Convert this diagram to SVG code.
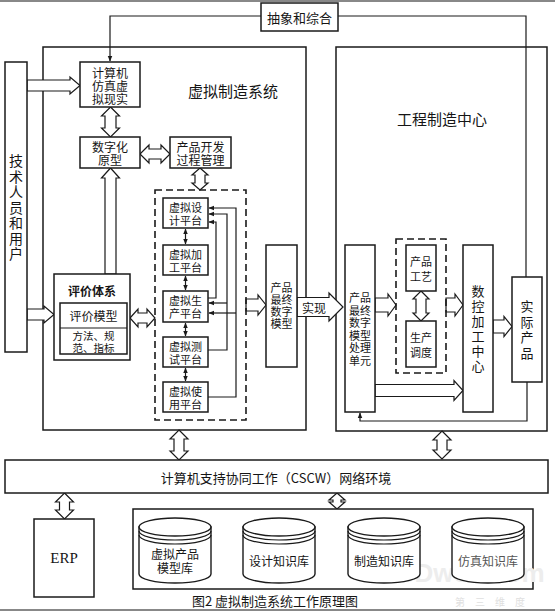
<svg xmlns="http://www.w3.org/2000/svg" xmlns:xlink="http://www.w3.org/1999/xlink" width="555" height="612" viewBox="0 0 555 612">
<style>
.box{fill:#fff;stroke:#1a1a1a;stroke-width:1.5}
.frame{fill:none;stroke:#1a1a1a;stroke-width:1.5}
.dash{fill:none;stroke:#1a1a1a;stroke-width:1.6;stroke-dasharray:7 4}
.ha{fill:#fff;stroke:#1a1a1a;stroke-width:1.2;stroke-linejoin:miter}
.ln{fill:none;stroke:#1a1a1a;stroke-width:1.2}
text{font-family:"Noto Sans CJK SC","Liberation Sans",sans-serif;fill:#151515;text-anchor:middle;dominant-baseline:central}
.t10{font-size:10.5px}
.t11{font-size:11px}
.t12{font-size:12px}
.t13{font-size:13px}
.t14{font-size:14px}
.t15{font-size:15px}
</style>
<defs>
<marker id="ah" viewBox="0 0 10 10" refX="9" refY="5" markerWidth="6" markerHeight="6" orient="auto-start-reverse" markerUnits="userSpaceOnUse">
<path d="M0,1 L10,5 L0,9 Z" fill="#1a1a1a"/>
</marker>
<g id="cyl">
<path d="M-36,527 L-36,574 A36,9 0 0 0 36,574 L36,527 Z" fill="#fff" stroke="#1a1a1a" stroke-width="1.4"/>
<ellipse cx="0" cy="527" rx="36" ry="9" fill="#fff" stroke="#1a1a1a" stroke-width="1.4"/>
<path d="M-36,531 A36,9 0 0 0 36,531 M-36,535 A36,9 0 0 0 36,535" fill="none" stroke="#1a1a1a" stroke-width="1.2"/>
</g>
</defs>
<rect width="555" height="612" fill="#fff"/>
<line x1="0" y1="1" x2="555" y2="1" stroke="#888" stroke-width="2"/>
<line x1="0" y1="610" x2="555" y2="610" stroke="#888" stroke-width="2"/>

<g id="vms">
<rect class="frame" x="43" y="47" width="263" height="383"/>
<text class="t15" x="233" y="90">虚拟制造系统</text>
</g>
<g id="emc">
<rect class="frame" x="336" y="47" width="211" height="384"/>
<text class="t15" x="442" y="118">工程制造中心</text>
</g>

<g id="connectors">
<polyline class="ln" points="261,16 110,16 110,61" marker-end="url(#ah)"/>
<polyline class="ln" points="338,16 526,16 526,277"/>
<polyline class="ln" points="527,382 527,421 360,421 360,413" marker-end="url(#ah)"/>
<polyline class="ln" points="208,298 216,298 216,222 209,222" marker-end="url(#ah)"/>
<polyline class="ln" points="208,350 227,350 227,214 209,214" marker-end="url(#ah)"/>
<line class="ln" x1="227" y1="303" x2="209" y2="303" marker-end="url(#ah)"/>
<polyline class="ln" points="208,397 236,397 236,208 209,208" marker-end="url(#ah)"/>
<line class="ln" x1="236" y1="313" x2="209" y2="313" marker-end="url(#ah)"/>
<line class="ln" x1="185.5" y1="229" x2="185.5" y2="244" marker-start="url(#ah)" marker-end="url(#ah)"/>
<line class="ln" x1="185.5" y1="276" x2="185.5" y2="290" marker-start="url(#ah)" marker-end="url(#ah)"/>
<line class="ln" x1="185.5" y1="323" x2="185.5" y2="336" marker-start="url(#ah)" marker-end="url(#ah)"/>
<line class="ln" x1="185.5" y1="368" x2="185.5" y2="381" marker-start="url(#ah)" marker-end="url(#ah)"/>
<polygon class="ha" points="27,80 70,80 70,77 80,85.5 70,94 70,91 27,91"/>
<polygon class="ha" points="27,309 44,309 44,306 54,314.5 44,323 44,320 27,320"/>
<polygon class="ha" points="110.5,107 119.5,116 116,116 116,128 119.5,128 110.5,137 101.5,128 105,128 105,116 101.5,116"/>
<polygon class="ha" points="110.5,168 119.5,178 116,178 116,274 105,274 105,178 101.5,178"/>
<polygon class="ha" points="140,154 149,145 149,149 161,149 161,145 170,154 161,163 161,159 149,159 149,163"/>
<polygon class="ha" points="200,168 208,175 205,175 205,183 208,183 200,190 192,183 195,183 195,175 192,175"/>
<polygon class="ha" points="130,318 138,309 138,313 147,313 147,309 155,318 147,327 147,323 138,323 138,327"/>
<polygon class="ha" points="246,299 258,299 258,295 266,305 258,315 258,311 246,311"/>
<polygon class="ha" points="297,297.5 329,297.5 329,293 343,307 329,321 329,316.5 297,316.5"/>
<text class="t12" x="314" y="307">实现</text>
<polygon class="ha" points="375,298 388,298 388,294 396,305 388,316 388,312 375,312"/>
<polygon class="ha" points="446,298 455,298 455,294 463,305 455,316 455,312 446,312"/>
<polygon class="ha" points="375,384.5 454,384.5 454,380.5 463,390.5 454,400.5 454,396.5 375,396.5"/>
<polygon class="ha" points="493,320 504,320 504,316.5 512,326.5 504,336.5 504,333 493,333"/>
<polygon class="ha" points="421,291 429,299 426,299 426,313 429,313 421,321 413,313 416,313 416,299 413,299"/>
<polygon class="ha" points="179,430 188,439 184,439 184,451 188,451 179,460 170,451 174,451 174,439 170,439"/>
<polygon class="ha" points="442,431 451,440 447,440 447,450 451,450 442,459 433,450 437,450 437,440 433,440"/>
<polygon class="ha" points="64.5,493 73.5,502 69.5,502 69.5,510 73.5,510 64.5,519 55.5,510 59.5,510 59.5,502 55.5,502"/>
<polygon class="ha" points="337,493 345,500 341,500 341,502 345,502 337,509 329,502 333,502 333,500 329,500"/>
</g>

<g id="abstract">
<rect class="box" x="261" y="3" width="77" height="28"/>
<text class="t13" x="299.5" y="17">抽象和综合</text>
</g>
<g id="users">
<rect class="box" x="5" y="62" width="22" height="290"/>
<text class="t14" x="16" y="160"><tspan x="16">技</tspan><tspan x="16" dy="15.5">术</tspan><tspan x="16" dy="15.5">人</tspan><tspan x="16" dy="15.5">员</tspan><tspan x="16" dy="15.5">和</tspan><tspan x="16" dy="15.5">用</tspan><tspan x="16" dy="15.5">户</tspan></text>
</g>
<g id="sim">
<rect class="box" x="80" y="62" width="60" height="45"/>
<text class="t12" x="110" y="72"><tspan x="110">计算机</tspan><tspan x="110" dy="13">仿真虚</tspan><tspan x="110" dy="13">拟现实</tspan></text>
</g>
<g id="proto">
<rect class="box" x="80" y="137" width="60" height="31"/>
<text class="t12" x="110" y="146"><tspan x="110">数字化</tspan><tspan x="110" dy="13">原型</tspan></text>
</g>
<g id="pdm">
<rect class="box" x="170" y="137" width="61" height="31"/>
<text class="t12" x="200.5" y="146"><tspan x="200.5">产品开发</tspan><tspan x="200.5" dy="13">过程管理</tspan></text>
</g>
<g id="eval">
<rect class="box" x="54" y="274" width="76" height="86"/>
<text class="t12" x="92" y="290" font-weight="bold">评价体系</text>
<rect class="box" x="60" y="303" width="67" height="51"/>
<line class="ln" x1="60" y1="328" x2="127" y2="328"/>
<text class="t12" x="93.5" y="315.5">评价模型</text>
<text class="t10" x="93.5" y="335"><tspan x="93.5">方法、规</tspan><tspan x="93.5" dy="11.5">范、指标</tspan></text>
</g>
<g id="platforms">
<rect class="dash" x="155" y="190" width="91" height="230"/>
</g>
<g id="p-design">
<rect class="box" x="163" y="198" width="45" height="30"/>
<text class="t11" x="185.5" y="206.5"><tspan x="185.5">虚拟设</tspan><tspan x="185.5" dy="13.5">计平台</tspan></text>
</g>
<g id="p-machining">
<rect class="box" x="163" y="245" width="45" height="30"/>
<text class="t11" x="185.5" y="253.5"><tspan x="185.5">虚拟加</tspan><tspan x="185.5" dy="13.5">工平台</tspan></text>
</g>
<g id="p-production">
<rect class="box" x="163" y="291" width="45" height="31"/>
<text class="t11" x="185.5" y="299.5"><tspan x="185.5">虚拟生</tspan><tspan x="185.5" dy="13.5">产平台</tspan></text>
</g>
<g id="p-test">
<rect class="box" x="163" y="337" width="45" height="30"/>
<text class="t11" x="185.5" y="345.5"><tspan x="185.5">虚拟测</tspan><tspan x="185.5" dy="13.5">试平台</tspan></text>
</g>
<g id="p-use">
<rect class="box" x="163" y="382" width="45" height="30"/>
<text class="t11" x="185.5" y="390.5"><tspan x="185.5">虚拟使</tspan><tspan x="185.5" dy="13.5">用平台</tspan></text>
</g>
<g id="final-model">
<rect class="box" x="266" y="245" width="31" height="122"/>
<text class="t11" x="281.5" y="287"><tspan x="281.5">产品</tspan><tspan x="281.5" dy="12">最终</tspan><tspan x="281.5" dy="12">数字</tspan><tspan x="281.5" dy="12">模型</tspan></text>
</g>
<g id="processing">
<rect class="box" x="345" y="245" width="30" height="167"/>
<text class="t11" x="360" y="297"><tspan x="360">产品</tspan><tspan x="360" dy="12.5">最终</tspan><tspan x="360" dy="12.5">数字</tspan><tspan x="360" dy="12.5">模型</tspan><tspan x="360" dy="12.5">处理</tspan><tspan x="360" dy="12.5">单元</tspan></text>
</g>
<g id="craft-group">
<rect class="dash" x="396" y="239" width="50" height="134"/>
</g>
<g id="craft">
<rect class="box" x="406" y="245" width="30" height="46"/>
<text class="t11" x="421" y="261"><tspan x="421">产品</tspan><tspan x="421" dy="15">工艺</tspan></text>
</g>
<g id="schedule">
<rect class="box" x="406" y="321" width="30" height="46"/>
<text class="t11" x="421" y="337"><tspan x="421">生产</tspan><tspan x="421" dy="15">调度</tspan></text>
</g>
<g id="cnc">
<rect class="box" x="463" y="245" width="30" height="167"/>
<text class="t13" x="478" y="290"><tspan x="478">数</tspan><tspan x="478" dy="15">控</tspan><tspan x="478" dy="15">加</tspan><tspan x="478" dy="15">工</tspan><tspan x="478" dy="15">中</tspan><tspan x="478" dy="15">心</tspan></text>
</g>
<g id="product">
<rect class="box" x="512" y="277" width="30" height="105"/>
<text class="t13" x="527" y="305"><tspan x="527">实</tspan><tspan x="527" dy="15.5">际</tspan><tspan x="527" dy="15.5">产</tspan><tspan x="527" dy="15.5">品</tspan></text>
</g>
<g id="cscw">
<rect class="box" x="5" y="460" width="543" height="33"/>
<text class="t13" x="276" y="477">计算机支持协同工作（CSCW）网络环境</text>
</g>
<g id="erp">
<rect class="box" x="34" y="519" width="60" height="78"/>
<text x="64" y="558" style="font-family:'Liberation Serif',serif;font-size:15px">ERP</text>
</g>
<g id="kb">
<rect class="box" x="133" y="509" width="400" height="80"/>
</g>
<text x="463" y="573" style="font-family:'Liberation Sans',sans-serif;font-size:26px;font-weight:bold;fill:#ededed">D3Dweb.com</text>
<text x="495" y="601" style="font-size:10px;fill:#e0e0e0;letter-spacing:10px">第三维度</text>
<g id="kb-model">
<use xlink:href="#cyl" href="#cyl" x="175"/>
<text class="t12" x="175" y="553"><tspan x="175">虚拟产品</tspan><tspan x="175" dy="14">模型库</tspan></text>
</g>
<g id="kb-design">
<use xlink:href="#cyl" href="#cyl" x="279"/>
<text class="t12" x="279" y="560">设计知识库</text>
</g>
<g id="kb-mfg">
<use xlink:href="#cyl" href="#cyl" x="384"/>
<text class="t12" x="384" y="560">制造知识库</text>
</g>
<g id="kb-sim">
<use xlink:href="#cyl" href="#cyl" x="488"/>
<text class="t12" x="488" y="560" style="fill:#555">仿真知识库</text>
</g>
<text class="t13" x="275" y="600">图2  虚拟制造系统工作原理图</text>
</svg>
